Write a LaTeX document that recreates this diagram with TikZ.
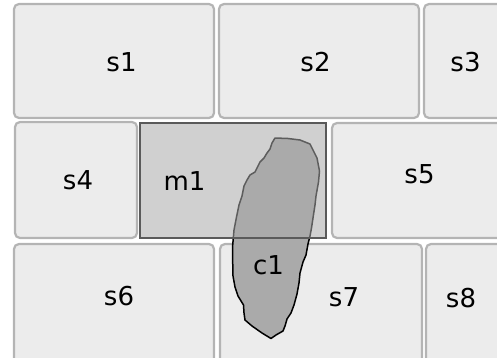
\documentclass[tikz,border=0pt]{standalone}
\usepackage{fontspec}
\setmainfont{DejaVu Sans}
\begin{document}
\begin{tikzpicture}[x=1pt,y=-1pt,
  sbox/.style={fill=sfill,draw=sline,line width=2.2pt,rounded corners=5pt},
  mbox/.style={fill=blobfill,fill opacity=0.55,draw=mline,line width=2.4pt},
  blob/.style={fill=blobfill,draw=black,line width=1.5pt,line join=round},
  lbl/.style={inner sep=0pt,font=\fontsize{26}{30}\selectfont}]
\definecolor{sfill}{HTML}{ECECEC}
\definecolor{sline}{HTML}{B4B4B4}
\definecolor{mline}{HTML}{5A5A5A}
\definecolor{blobfill}{HTML}{AAAAAA}
\useasboundingbox (0,0) rectangle (497,358);
\clip (0,0) rectangle (497,358);
% top row
\path[sbox] (14,4) rectangle (214,118);
\path[sbox] (219,4) rectangle (419,118);
\path[sbox] (424,4) rectangle (510,118);
% middle row
\path[sbox] (15,122) rectangle (137,238);
\path[sbox] (332,123) rectangle (510,238);
% bottom row
\path[sbox] (14,244) rectangle (214,370);
\path[sbox] (220,244) rectangle (422,370);
\path[sbox] (426,244) rectangle (510,370);
% blob c1
\draw[blob] (275,138) -- (288,138.5) -- (300,140) -- (310,144) -- (313,150)
  -- (317,158) -- (319.5,171) -- (318.5,182) -- (316,196) -- (315,205)
  -- (313,218) -- (311.5,228) -- (310,236) -- (308,244) -- (306,255)
  -- (303,262) -- (300,273) -- (299,283) -- (297,294) -- (294,305)
  -- (291,313) -- (287,319) -- (285,326) -- (283,331) -- (276,335)
  -- (271,338.5) -- (262,333) -- (252,326) -- (245,320) -- (244,313)
  -- (243.5,305) -- (238,296) -- (235,287) -- (233,276) -- (232.7,262)
  -- (232.7,245) -- (234,230) -- (236.5,217) -- (239,205) -- (242,196)
  -- (244,186) -- (247,180) -- (250,175) -- (255,172) -- (258,166)
  -- (260,162) -- (264,158) -- (267,153) -- (270,149) -- (272,143) -- cycle;
% m1
\path[mbox] (140,123) rectangle (326,238);
% labels
\node[lbl] (s1) at (121.5,62) {s1};
\node[lbl] (s2) at (315.5,62) {s2};
\node[lbl] (s3) at (465.5,62) {s3};
\node[lbl] (s4) at (78,180) {s4};
\node[lbl] (m1) at (184.5,181) {m1};
\node[lbl] (s5) at (419.5,174) {s5};
\node[lbl] (s6) at (119,296) {s6};
\node[lbl] (s7) at (344,297) {s7};
\node[lbl] (c1) at (268.5,265) {c1};
\node[lbl] (s8) at (461,298) {s8};
\end{tikzpicture}
\end{document}
